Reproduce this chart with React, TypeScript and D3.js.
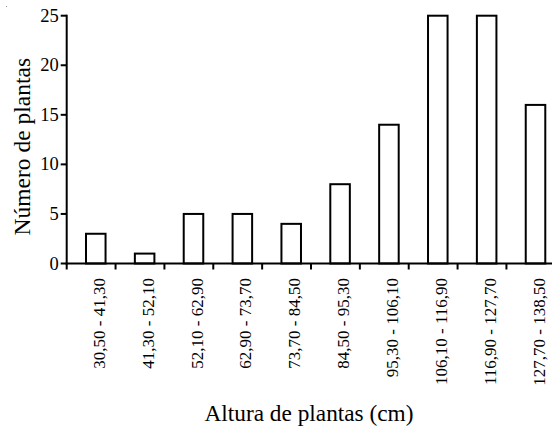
import React from "react";
import * as d3 from "d3";

const categories = [
  "30,50 - 41,30",
  "41,30 - 52,10",
  "52,10 - 62,90",
  "62,90 - 73,70",
  "73,70 - 84,50",
  "84,50 - 95,30",
  "95,30 - 106,10",
  "106,10 - 116,90",
  "116,90 - 127,70",
  "127,70 - 138,50",
];
const counts = [3, 1, 5, 5, 4, 8, 14, 25, 25, 16];
const yTicks = [0, 5, 10, 15, 20, 25];

const W = 552;
const H = 428;
const left = 66.7;
const y0 = 263.5;
const yTop = 15.7;
const bandW = 48.86;
const fontStyle = { fontFamily: "Liberation Serif" };

export default function App() {
  const x = d3
    .scaleBand<string>()
    .domain(categories)
    .range([left, left + bandW * categories.length])
    .padding(0);
  const y = d3.scaleLinear().domain([0, 25]).range([y0, yTop]);
  const bw = x.bandwidth();

  return (
    <svg
      width={W}
      height={H}
      style={{ position: "absolute", left: 0, top: 0, background: "#fff" }}
    >
      <rect x={0} y={0} width={W} height={H} fill="#fff" />
      <rect x={6} y={6} width={1} height={1} fill="#999" />
      {categories.map((c, i) => (
        <rect
          key={c}
          x={(x(c) as number) + bw * 0.395}
          y={y(counts[i])}
          width={bw * 0.4}
          height={y0 - y(counts[i])}
          fill="#fff"
          stroke="#000"
          strokeWidth={2}
        />
      ))}
      <line x1={left} x2={left} y1={yTop - 1} y2={y0 + 1} stroke="#000" strokeWidth={2} />
      {yTicks.map((t) => (
        <g key={t}>
          <line x1={left - 6} x2={left} y1={y(t)} y2={y(t)} stroke="#000" strokeWidth={2} />
          <text
            x={left - 8}
            y={y(t) + 6}
            textAnchor="end"
            fontSize={18.5}
            fill="#000"
            style={fontStyle}
          >
            {t}
          </text>
        </g>
      ))}
      <line x1={left - 1} x2={W} y1={y0} y2={y0} stroke="#000" strokeWidth={2} />
      {categories.map((c) => (
        <line
          key={"t" + c}
          x1={x(c) as number}
          x2={x(c) as number}
          y1={y0}
          y2={y0 + 6}
          stroke="#000"
          strokeWidth={2}
        />
      ))}
      {categories.map((c) => {
        const cx = (x(c) as number) + bw * 0.78;
        const ty = 278;
        return (
          <text
            key={"l" + c}
            transform={`translate(${cx},${ty}) rotate(-90)`}
            textAnchor="end"
            fontSize={17}
            fill="#000"
            style={fontStyle}
          >
            {c}
          </text>
        );
      })}
      <text x={309} y={421} textAnchor="middle" fontSize={23.3} fill="#000" style={fontStyle}>
        Altura de plantas (cm)
      </text>
      <text
        transform={`translate(29.5,146.7) rotate(-90)`}
        textAnchor="middle"
        fontSize={23.5}
        fill="#000"
        style={fontStyle}
      >
        Número de plantas
      </text>
    </svg>
  );
}
